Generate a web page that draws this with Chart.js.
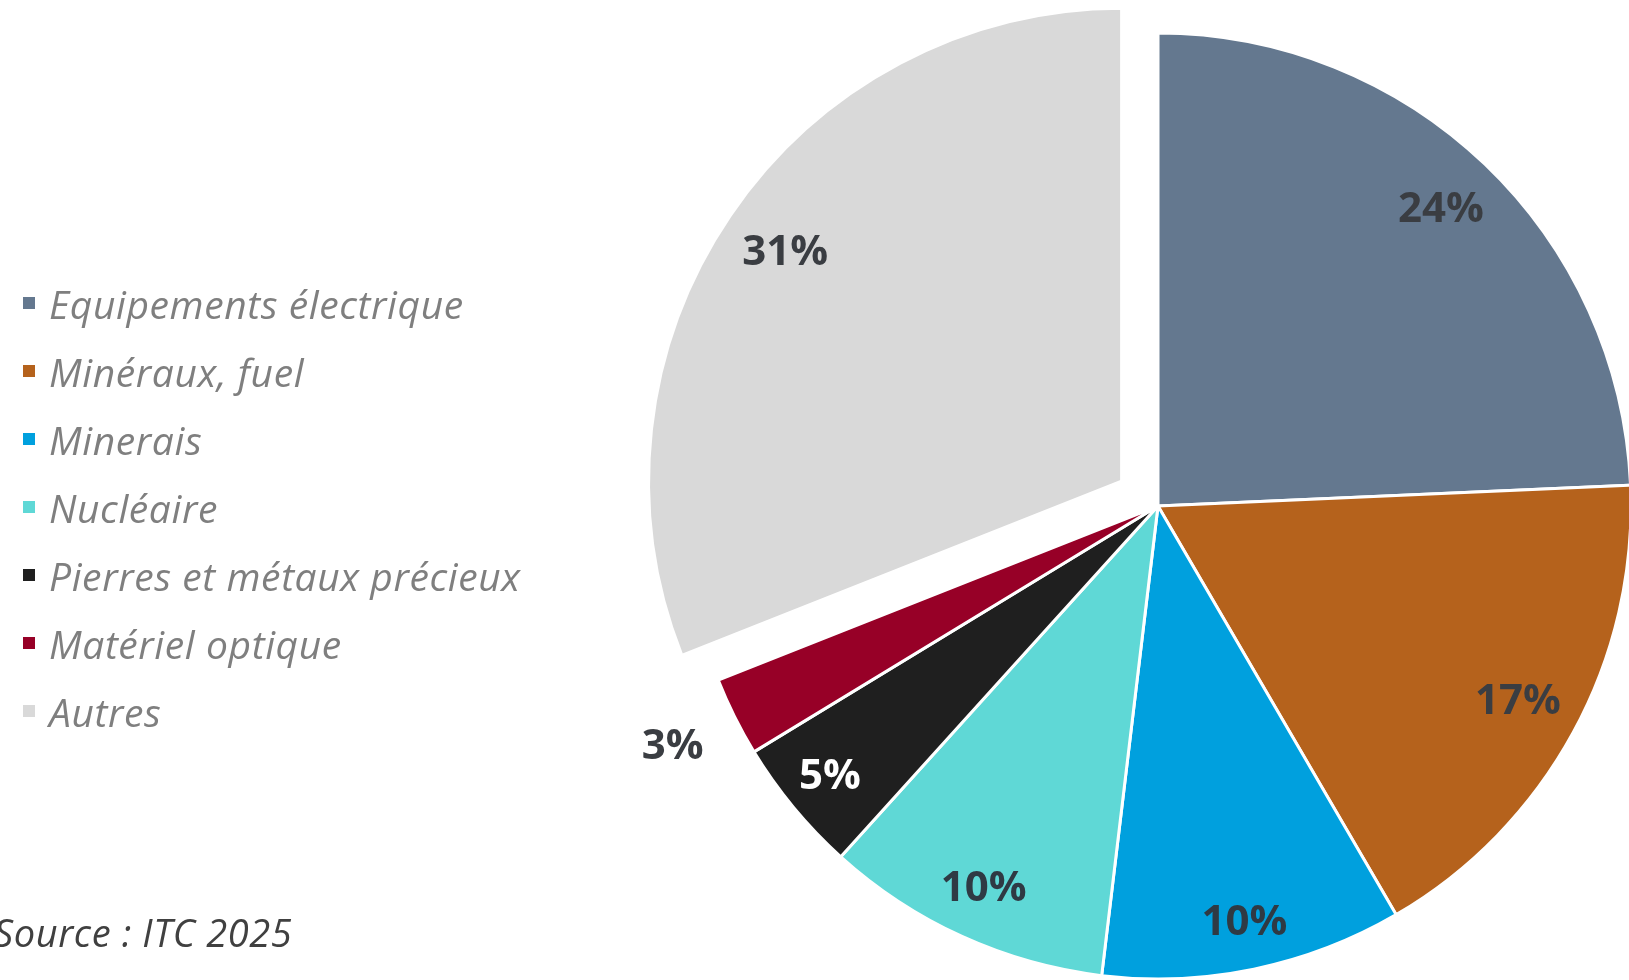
<!DOCTYPE html>
<html>
<head>
<meta charset="utf-8">
<script src="https://cdn.jsdelivr.net/npm/chart.js@4.4.1/dist/chart.umd.min.js"></script>
<style>
html,body{margin:0;padding:0;background:#fff;width:1629px;height:980px;overflow:hidden;}
#c{position:absolute;left:0;top:0;}
#legend{position:absolute;left:23px;top:269px;font-family:"Open Sans",sans-serif;font-style:italic;font-size:39px;letter-spacing:0.6px;color:#7f7f7f;}
#legend .row{height:68px;display:flex;align-items:center;white-space:nowrap;}
#legend .sw{width:12px;height:12px;margin-right:14px;flex:none;}
#source{position:absolute;left:-6px;top:908px;font-family:"Open Sans",sans-serif;font-style:italic;font-size:38px;letter-spacing:0.6px;color:#404040;white-space:nowrap;line-height:48px;}
</style>
</head>
<body>
<canvas id="c" width="1629" height="980"></canvas>
<div id="legend"></div>
<div id="source"></div>
<script>
// ---- data ----
const categories = ["Equipements électrique", "Minéraux, fuel", "Minerais", "Nucléaire", "Pierres et métaux précieux", "Matériel optique", "Autres"];
const shares = [24.3, 17.3, 10.3, 9.8, 4.6, 2.7, 31.0];
const sliceColors = ["#64788f", "#b5621c", "#00a0de", "#5fd8d6", "#1f1f1f", "#970027", "#d9d9d9"];
const labelColors = ["#3a3d42", "#3a3d42", "#2f3a44", "#2f3a44", "#ffffff", "#3a3d42", "#3a3d42"];
const explode = [0, 0, 0, 0, 0, 0, 44];
const labelRadius = [0.865, 0.867, 0.9, 0.89, 0.9, 1.146, 0.86];
const sourceText = "Source : ITC 2025";

// ---- legend (HTML) ----
const legendEl = document.getElementById('legend');
categories.forEach((c, i) => {
  const row = document.createElement('div');
  row.className = 'row';
  const sw = document.createElement('span');
  sw.className = 'sw';
  sw.style.background = sliceColors[i];
  const t = document.createElement('span');
  t.textContent = c;
  row.appendChild(sw); row.appendChild(t);
  legendEl.appendChild(row);
});
document.getElementById('source').textContent = sourceText;

// ---- plugins ----
const explodePlugin = {
  id: 'explode',
  afterDatasetsUpdate(chart) {
    const meta = chart.getDatasetMeta(0);
    meta.data.forEach((arc, i) => {
      const d = explode[i];
      if (!d) return;
      const a = (arc.startAngle + arc.endAngle) / 2;
      arc.x += Math.cos(a) * d;
      arc.y += Math.sin(a) * d;
    });
  }
};
const labelPlugin = {
  id: 'sliceLabels',
  afterDatasetsDraw(chart) {
    const ctx = chart.ctx;
    const meta = chart.getDatasetMeta(0);
    const data = chart.data.datasets[0].data;
    const total = data.reduce((a, b) => a + b, 0);
    ctx.save();
    ctx.font = 'bold 42px "Open Sans", sans-serif';
    ctx.textAlign = 'center';
    ctx.textBaseline = 'middle';
    meta.data.forEach((arc, i) => {
      const a = (arc.startAngle + arc.endAngle) / 2;
      const r = arc.outerRadius * labelRadius[i];
      const x = arc.x + Math.cos(a) * r;
      const y = arc.y + Math.sin(a) * r;
      ctx.fillStyle = labelColors[i];
      ctx.fillText(Math.round(data[i] / total * 100) + '%', x, y);
    });
    ctx.restore();
  }
};

new Chart(document.getElementById('c'), {
  type: 'pie',
  data: {
    labels: categories,
    datasets: [{
      data: shares,
      backgroundColor: sliceColors,
      borderColor: '#ffffff',
      borderWidth: 3,
      clip: false
    }]
  },
  options: {
    responsive: false,
    animation: false,
    events: [],
    radius: 473,
    layout: { padding: { left: 700, right: 13, top: 40, bottom: 8 } },
    plugins: { legend: { display: false }, tooltip: { enabled: false } }
  },
  plugins: [explodePlugin, labelPlugin]
});
</script>
</body>
</html>
